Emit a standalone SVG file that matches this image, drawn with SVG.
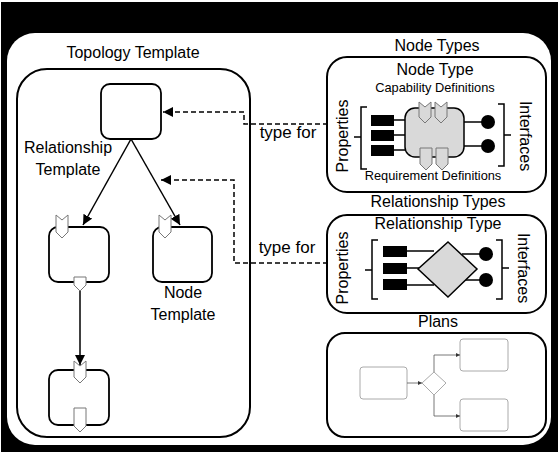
<svg xmlns="http://www.w3.org/2000/svg" width="558" height="452" viewBox="0 0 558 452">
<style>
text{font-family:"Liberation Sans",Arial,sans-serif;fill:#000}
.lbl{font-size:16px;text-anchor:middle}
.tf{font-size:17px;text-anchor:middle}
.sm{font-size:12.8px;text-anchor:middle}
.box{fill:#fff;stroke:#000;stroke-width:2}
.tn{fill:#fff;stroke:#000;stroke-width:1.8}
.cap{fill:#fff;stroke:#777;stroke-width:1}
.gcap{fill:#d9d9d9;stroke:#777;stroke-width:1}
.ln{stroke:#000;stroke-width:1.5;fill:none}
.dash{stroke:#000;stroke-width:1.5;fill:none;stroke-dasharray:5,3}
.prop{fill:#000}
.pl{fill:#fff;stroke:#aaa;stroke-width:1}
.pln{stroke:#555;stroke-width:0.8;fill:none}
</style>
<defs>
<marker id="ahb" viewBox="0 0 10 10" refX="10" refY="5" markerWidth="10" markerHeight="10" markerUnits="userSpaceOnUse" orient="auto">
<path d="M0,0 L10,5 L0,10 z" fill="#000"/>
</marker>
<marker id="ahs" viewBox="0 0 10 10" refX="10" refY="5" markerWidth="4" markerHeight="4" markerUnits="userSpaceOnUse" orient="auto">
<path d="M0,0 L10,5 L0,10 z" fill="#333"/>
</marker>
</defs>
<rect x="0" y="0" width="558" height="452" fill="#fff"/>
<rect x="1" y="2" width="557" height="450" fill="#000"/>
<rect x="7" y="33" width="544" height="412" rx="28" fill="#fff"/>

<g id="topology">
<text class="lbl" x="133" y="58" font-size="16.5">Topology Template</text>
<rect class="box" x="17" y="69" width="233" height="368" rx="30"/>
</g>

<g id="connectors">
<line class="ln" x1="131" y1="139" x2="83" y2="225" marker-end="url(#ahb)"/>
<line class="ln" x1="131" y1="139" x2="180" y2="225" marker-end="url(#ahb)"/>
<line class="ln" x1="80" y1="290" x2="80" y2="365" marker-end="url(#ahb)"/>
<polyline class="dash" points="328,124 244,124 244,112 163,112" marker-end="url(#ahb)"/>
<polyline class="dash" points="328,263 234,263 234,180 161,180" marker-end="url(#ahb)"/>
<text class="tf" x="288" y="138">type for</text>
<text class="tf" x="287" y="253">type for</text>
</g>

<g id="node-top">
<rect class="tn" x="101" y="84" width="60" height="55" rx="9"/>
</g>
<g id="rel-template-label">
<text class="lbl" x="68" y="153" font-size="16.5">Relationship</text>
<text class="lbl" x="68" y="175" font-size="16.5">Template</text>
</g>
<g id="node-mid-left">
<rect class="tn" x="49" y="227" width="60" height="55" rx="9"/>
<path class="cap" d="M56,215 L62,220 L68,215 L68,232 L62,238 L56,232 Z"/>
<path class="cap" d="M74,277 L86,277 L86,285 L80,291 L74,285 Z"/>
</g>
<g id="node-mid-right">
<rect class="tn" x="153" y="227" width="59" height="55" rx="9"/>
<path class="cap" d="M159,215 L165,220 L171,215 L171,232 L165,238 L159,232 Z"/>
<text class="lbl" x="183" y="298" font-size="16.5">Node</text>
<text class="lbl" x="183" y="320" font-size="16.5">Template</text>
</g>
<g id="node-bottom">
<rect class="tn" x="49" y="370" width="60" height="55" rx="9"/>
<path class="cap" d="M74,361 L80,366 L86,361 L86,377 L80,383 L74,377 Z"/>
<path class="cap" d="M74,408 L86,408 L86,426 L80,432 L74,426 Z"/>
</g>

<g id="node-types">
<text class="lbl" x="437" y="51" font-size="17">Node Types</text>
<rect class="box" x="327" y="57" width="219" height="135" rx="20"/>
<text class="lbl" x="435" y="75" font-size="17">Node Type</text>
<text class="sm" x="435" y="92">Capability Definitions</text>
<text class="sm" x="433" y="180">Requirement Definitions</text>
<text class="lbl" transform="translate(348,136) rotate(-90)" font-size="17">Properties</text>
<text class="lbl" transform="translate(520,136) rotate(90)" font-size="17">Interfaces</text>
<path class="ln" d="M367,107 L361,107 L361,169 L367,169 M361,137 L354,137"/>
<path class="ln" d="M498,104 L504,104 L504,166 L498,166 M504,135 L511,135"/>
<line class="ln" x1="394" y1="120" x2="406" y2="120"/>
<line class="ln" x1="394" y1="135" x2="406" y2="135"/>
<line class="ln" x1="394" y1="150" x2="406" y2="150"/>
<rect class="prop" x="371" y="115" width="23" height="11"/>
<rect class="prop" x="371" y="130" width="23" height="11"/>
<rect class="prop" x="371" y="145" width="23" height="11"/>
<rect x="405" y="108" width="59" height="49" rx="10" fill="#d9d9d9" stroke="#000" stroke-width="1.5"/>
<path class="gcap" d="M419,102 L425,107 L431,102 L431,117 L425,123 L419,117 Z"/>
<path class="gcap" d="M435,102 L441,107 L447,102 L447,117 L441,123 L435,117 Z"/>
<path class="gcap" d="M420,148 L432,148 L432,164 L426,170 L420,164 Z"/>
<path class="gcap" d="M436,148 L448,148 L448,164 L442,170 L436,164 Z"/>
<line class="ln" x1="464" y1="122" x2="482" y2="122"/>
<line class="ln" x1="464" y1="146" x2="482" y2="146"/>
<circle cx="488" cy="122" r="7" fill="#000"/>
<circle cx="488" cy="146" r="7" fill="#000"/>
</g>

<g id="relationship-types">
<text class="lbl" x="438" y="207" font-size="16.5">Relationship Types</text>
<rect class="box" x="327" y="215" width="219" height="98" rx="20"/>
<text class="lbl" x="438" y="229" font-size="16.5">Relationship Type</text>
<text class="lbl" transform="translate(348,268) rotate(-90)" font-size="17">Properties</text>
<text class="lbl" transform="translate(518,268) rotate(90)" font-size="17">Interfaces</text>
<path class="ln" d="M378,240 L372,240 L372,299 L378,299 M372,270 L365,270"/>
<path class="ln" d="M496,240 L502,240 L502,299 L496,299 M502,268 L509,268"/>
<line class="ln" x1="406" y1="251" x2="434" y2="251"/>
<line class="ln" x1="406" y1="268" x2="420" y2="268"/>
<line class="ln" x1="406" y1="285" x2="434" y2="285"/>
<line class="ln" x1="462" y1="254" x2="481" y2="254"/>
<line class="ln" x1="462" y1="280" x2="481" y2="280"/>
<rect class="prop" x="383" y="246" width="24" height="11"/>
<rect class="prop" x="383" y="263" width="24" height="11"/>
<rect class="prop" x="383" y="279" width="24" height="11"/>
<path d="M448,242 L477,269 L448,297 L418,269 Z" fill="#d9d9d9" stroke="#000" stroke-width="1.5"/>
<circle cx="486" cy="254" r="7" fill="#000"/>
<circle cx="486" cy="280" r="7" fill="#000"/>
</g>

<g id="plans">
<text class="lbl" x="438" y="327" font-size="17">Plans</text>
<rect class="box" x="327" y="333" width="219" height="104" rx="18"/>
<rect class="pl" x="360" y="367" width="47" height="32" rx="3"/>
<rect class="pl" x="460" y="339" width="48" height="32" rx="3"/>
<rect class="pl" x="460" y="399" width="48" height="32" rx="3"/>
<path class="pl" d="M434,372 L446,383 L434,395 L422,383 Z"/>
<line class="pln" x1="407" y1="383" x2="422" y2="383" marker-end="url(#ahs)"/>
<polyline class="pln" points="434,372 434,355 460,355" marker-end="url(#ahs)"/>
<polyline class="pln" points="434,395 434,416 460,416" marker-end="url(#ahs)"/>
</g>
</svg>
